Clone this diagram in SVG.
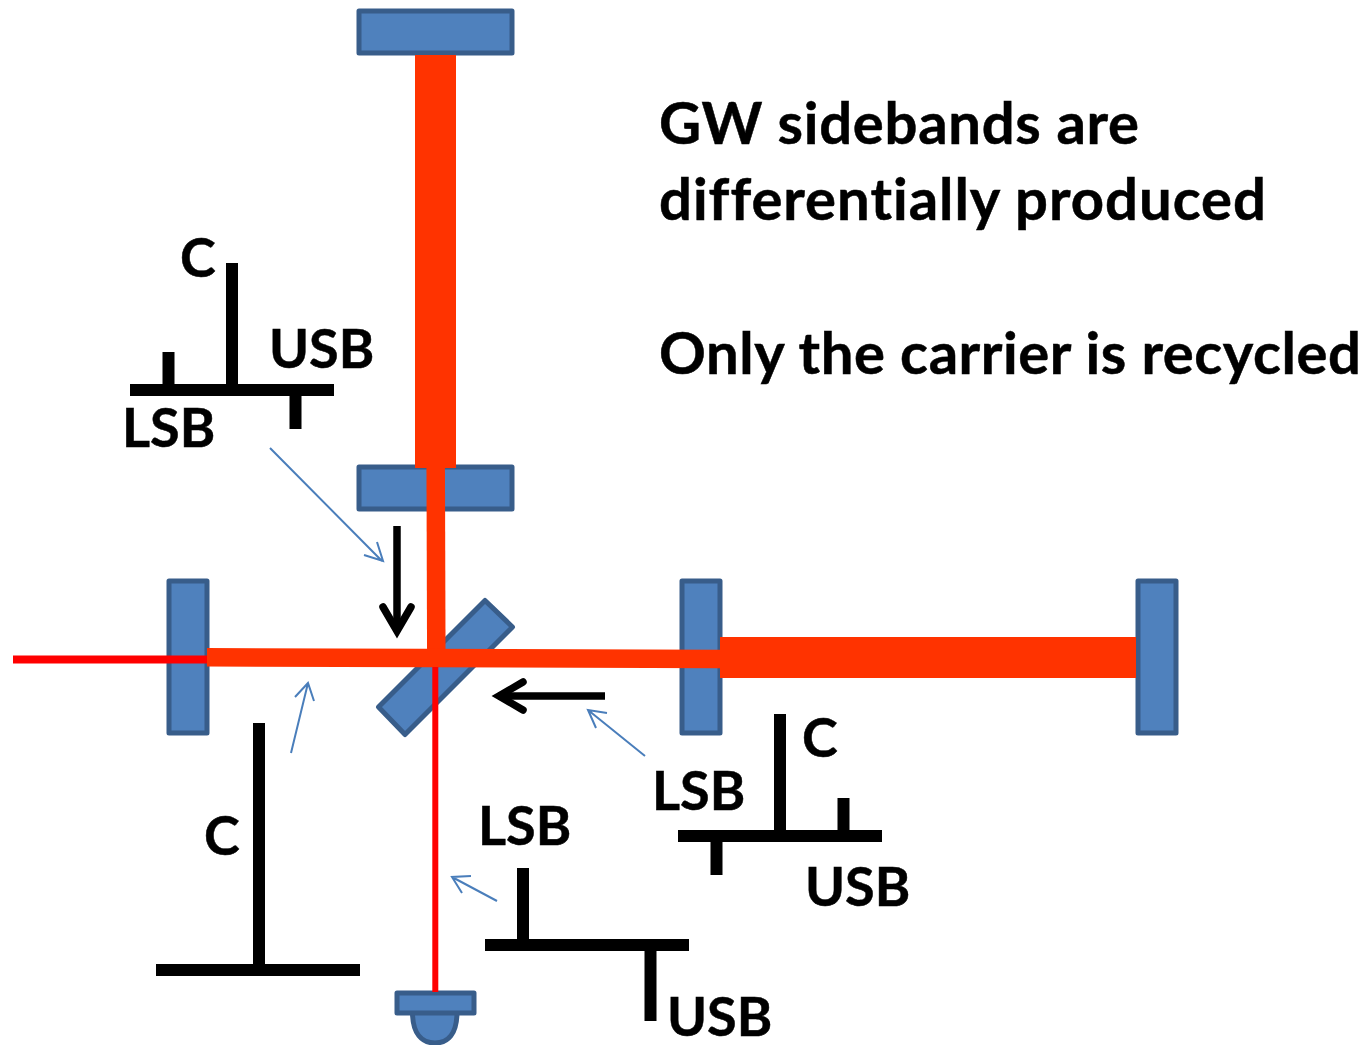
<svg xmlns="http://www.w3.org/2000/svg" width="1371" height="1045" viewBox="0 0 1371 1045">
<style>
.m{fill:#4f81bd;stroke:#385d8a;stroke-width:5;stroke-linejoin:round}
.t{font-family:"Lato","Liberation Sans",sans-serif;font-weight:700;font-size:54px;fill:#000;font-variant-ligatures:none;stroke:#000;stroke-width:.5}
.c{font-size:58px}
.k{stroke:#000;stroke-width:12;fill:none}
.th{stroke:#4a7ebb;stroke-width:2;fill:none}
.bb{stroke:#000;stroke-width:7.5;fill:none;stroke-linecap:round;stroke-linejoin:miter}
</style>
<rect width="1371" height="1045" fill="#fff"/>
<g id="mirror-end-y"><rect class="m" x="359" y="11" width="153" height="42"/></g>
<g id="mirror-input-y"><rect class="m" x="359" y="467" width="153" height="42"/></g>
<g id="mirror-recycling"><rect class="m" x="169" y="581" width="38" height="152"/></g>
<g id="mirror-input-x"><rect class="m" x="682" y="581" width="38" height="152"/></g>
<g id="mirror-end-x"><rect class="m" x="1138" y="581" width="38" height="152"/></g>
<g id="beamsplitter"><polygon class="m" points="485,600.500 512.500,627 405,734.500 378.500,707"/></g>
<g id="detector">
<path class="m" d="M412.500 1012 C412.500 1034 422 1043 435 1043 C448 1043 457 1034 457 1012 Z"/>
<rect class="m" x="397" y="993" width="77" height="20"/>
</g>
<g id="connectors">
<g id="beams">
<line x1="435.500" y1="55" x2="435.500" y2="468" stroke="#ff3300" stroke-width="41"/>
<line x1="720" y1="657.500" x2="1136" y2="657.500" stroke="#ff3300" stroke-width="41"/>
<line x1="435.700" y1="467" x2="436.300" y2="650" stroke="#ff3300" stroke-width="18.500"/>
<line x1="207" y1="657.300" x2="720" y2="659" stroke="#ff3300" stroke-width="18.500"/>
<line x1="13" y1="659.500" x2="207" y2="659.500" stroke="#ff0000" stroke-width="8"/>
<line x1="435.300" y1="667" x2="435.300" y2="992" stroke="#ff0000" stroke-width="6"/>
</g>
<g id="black-arrows">
<path d="M397 526V632" stroke="#000" stroke-width="7.500" fill="none"/>
<path class="bb" d="M383 607L397 631L411 607"/>
<path d="M605 696H498" stroke="#000" stroke-width="7.500" fill="none"/>
<path class="bb" d="M523 682L499 696L523 710"/>
</g>
<g id="pointers">
<path class="th" d="M270 448L382 561M364 555L383 561L377 542"/>
<path class="th" d="M291 753L308 683M295 697L308 683L314 701"/>
<path class="th" d="M645 756L588 710M607 713L588 710L596 728"/>
<path class="th" d="M497 901L452 877M471 876L452 877L462 893"/>
</g>
</g>
<g id="spectrum-top">
<path class="k" d="M130 390H334M232 263V390M168.500 352V390M295.500 390V429"/>
<text class="t" x="180" y="277">C</text>
<text class="t" x="269" y="368">USB</text>
<text class="t" x="122" y="447">LSB</text>
</g>
<g id="spectrum-right">
<path class="k" d="M678 836H882M780 714V836M843.500 798V836M716.500 836V875"/>
<text class="t" x="802" y="757">C</text>
<text class="t" x="652" y="810">LSB</text>
<text class="t" x="805" y="906">USB</text>
</g>
<g id="spectrum-bottom-left">
<path class="k" d="M156 970H360M259 723V970"/>
<text class="t" x="204" y="855">C</text>
</g>
<g id="spectrum-bottom">
<path class="k" d="M485 945H689M523 868V945M650.500 945V1021"/>
<text class="t" x="478" y="845">LSB</text>
<text class="t" x="667" y="1036">USB</text>
</g>
<g id="captions">
<text class="t c" x="659" y="144" textLength="480">GW sidebands are</text>
<text class="t c" x="659" y="220" textLength="607">differentially produced</text>
<text class="t c" x="659" y="374" textLength="702">Only the carrier is recycled</text>
</g>
</svg>
